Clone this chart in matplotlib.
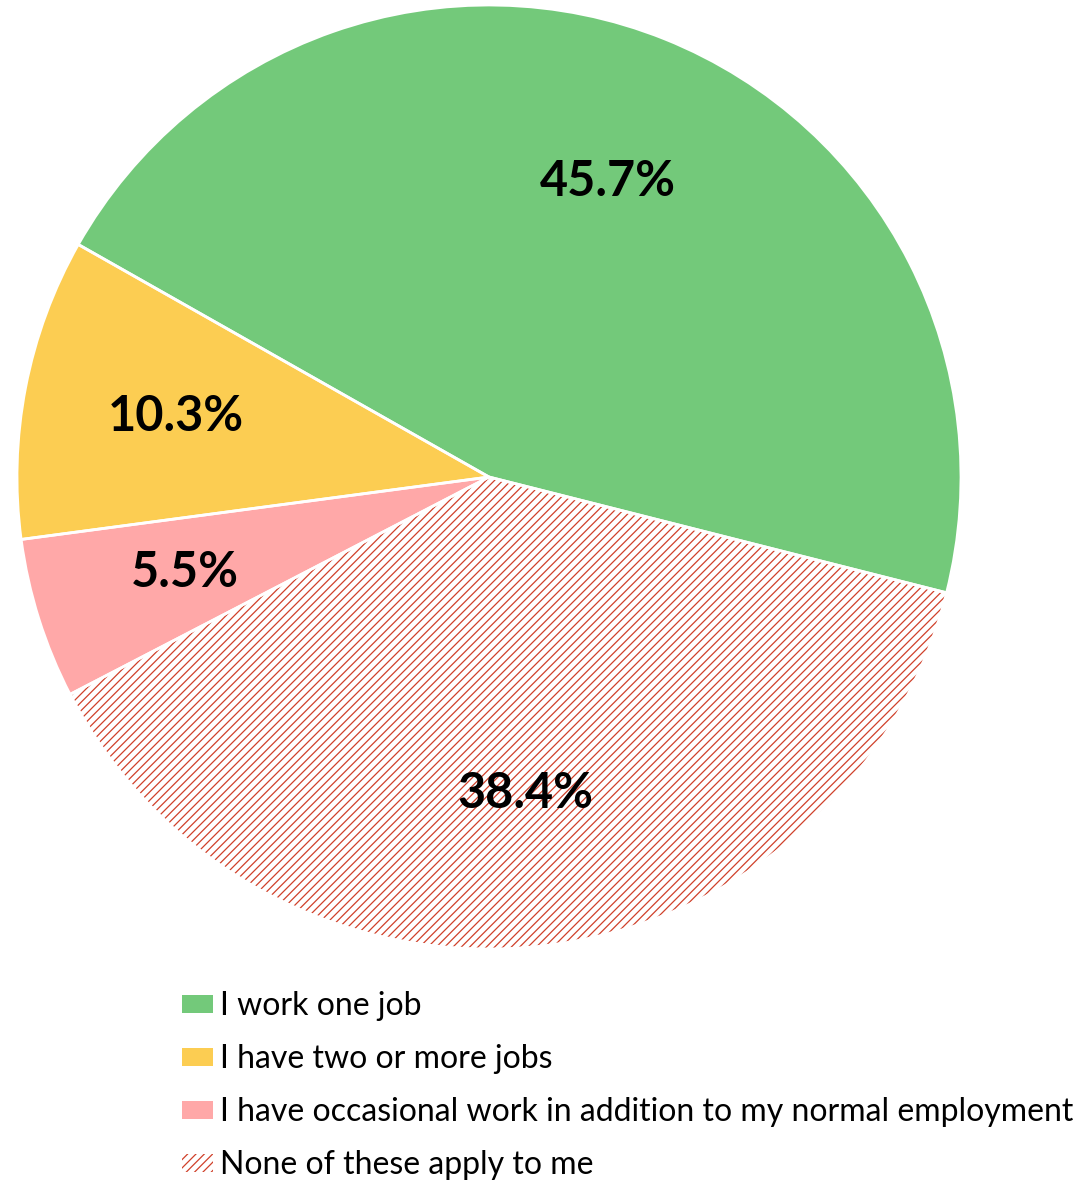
import matplotlib.pyplot as plt

labels = ["I work one job", "I have two or more jobs",
          "I have occasional work in addition to my normal employment",
          "None of these apply to me"]
shares = [45.7, 10.3, 5.5, 38.4]
colors = ["#73C97A", "#FCCD52", "#FFA8A8", "white"]
hatch_col = "#D0402A"

plt.rcParams['font.family'] = ['Lato', 'DejaVu Sans']
plt.rcParams['hatch.linewidth'] = 0.9

fig = plt.figure(figsize=(10.8, 11.81), dpi=100)
ax = fig.add_axes([17 / 1080, 232 / 1181, 944 / 1080, 944 / 1181])

wedges, texts, autotexts = ax.pie(
    shares, colors=colors, startangle=-14.2, counterclock=True,
    autopct='%1.1f%%', pctdistance=0.675,
    wedgeprops=dict(linewidth=0),
    textprops=dict(fontsize=35, fontweight='bold', color='black'))

# hatched slice: hatch takes the edge colour
wedges[3].set_hatch('////')
wedges[3].set_edgecolor(hatch_col)
wedges[3].set_linewidth(0)

# white separators on top
outline, _ = ax.pie(shares, colors=['none'] * 4, startangle=-14.2,
                    counterclock=True,
                    wedgeprops=dict(edgecolor='white', linewidth=2))
for t in autotexts:
    t.set_zorder(5)

ax.set_xlim(-1, 1)
ax.set_ylim(-1, 1)
ax.set_aspect('equal')

leg = fig.legend(wedges, labels, loc='upper left',
                 bbox_to_anchor=(182 / 1080, 1 - 991 / 1181),
                 frameon=False, fontsize=23, handlelength=0.97,
                 handleheight=0.5, handletextpad=0.22, labelspacing=0.72,
                 borderpad=0, borderaxespad=0)
for p in leg.get_patches():
    p.set_linewidth(0)

fig.savefig("out.png", dpi=100)
